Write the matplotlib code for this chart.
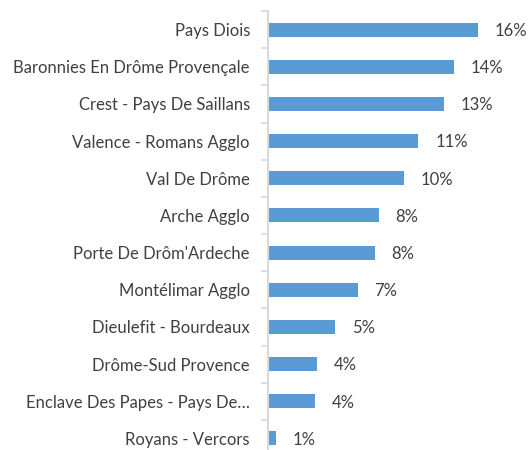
import matplotlib.pyplot as plt
from matplotlib.ticker import FixedLocator

plt.rcParams['font.family'] = ['Lato', 'DejaVu Sans']

territoires = ['Pays Diois', 'Baronnies En Drôme Provençale', 'Crest - Pays De Saillans',
               'Valence - Romans Agglo', 'Val De Drôme', 'Arche Agglo',
               "Porte De Drôm'Ardeche", 'Montélimar Agglo', 'Dieulefit - Bourdeaux',
               'Drôme-Sud Provence', 'Enclave Des Papes - Pays De…', 'Royans - Vercors']
parts = [15.9, 14.1, 13.3, 11.4, 10.3, 8.4, 8.1, 6.8, 5.1, 3.7, 3.55, 0.6]

fig = plt.figure(figsize=(5.31, 4.5), dpi=100)
ax = fig.add_axes([268/531, -7/450, 260/531, 446/450])

y = list(range(len(parts)))
ax.barh(y, parts, height=0.38, color='#5b9bd5')
ax.set_ylim(len(parts) - 0.5, -0.5)
ax.set_xlim(0, 19.7)

for yi, v in zip(y, parts):
    ax.annotate('%.0f%%' % v, (v, yi), xytext=(12, -1), textcoords='offset points',
                va='center', ha='left', fontsize=12, color='#404040')

ax.set_yticks(y)
ax.set_yticklabels(territoires, fontsize=12, color='#404040')
ax.yaxis.set_minor_locator(FixedLocator([i - 0.5 for i in range(len(parts) + 1)]))
ax.tick_params(axis='y', which='major', length=0, pad=13)
ax.tick_params(axis='y', which='minor', length=5, color='#d9d9d9', width=1.2)
ax.set_xticks([])
for s in ['top', 'right', 'bottom']:
    ax.spines[s].set_visible(False)
ax.spines['left'].set_color('#d9d9d9')
ax.spines['left'].set_linewidth(1.5)

plt.savefig('out.png')
